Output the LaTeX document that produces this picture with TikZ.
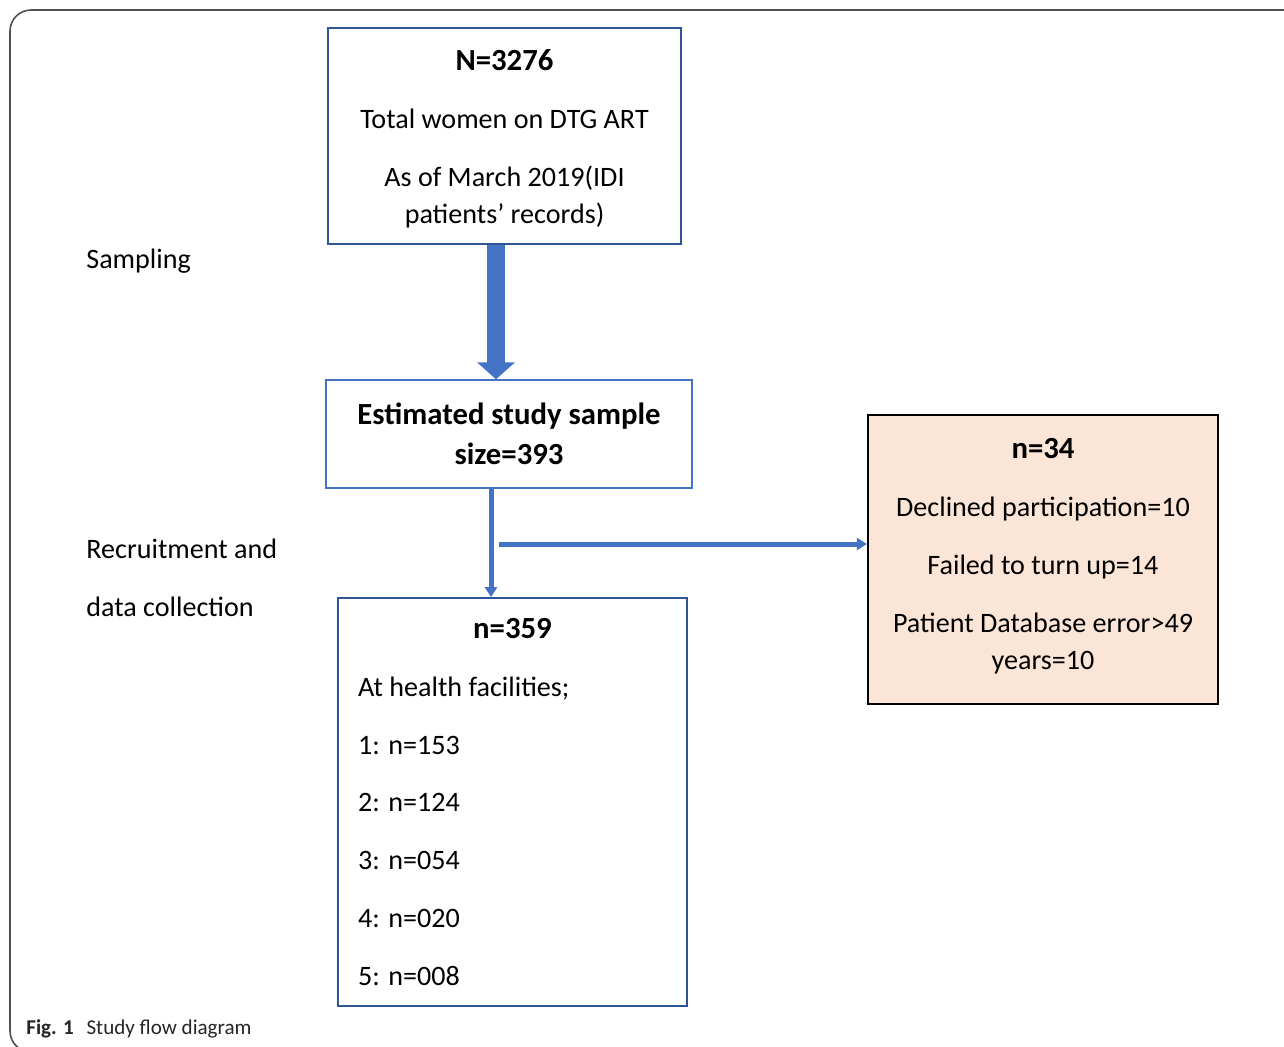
\documentclass[tikz,border=0pt]{standalone}
\usepackage{fontspec}
\setmainfont{Carlito}
\usepackage{tikz}
\usetikzlibrary{arrows.meta,positioning}

\definecolor{boxblue}{RGB}{47,85,151}
\definecolor{arrowblue}{RGB}{68,114,196}
\definecolor{peach}{RGB}{251,229,214}
\definecolor{framegray}{RGB}{80,80,80}

\newcommand{\hd}[1]{{\fontsize{17.5}{21}\selectfont\bfseries #1}}

\begin{document}
\begin{tikzpicture}[
    x=0.02cm, y=-0.02cm,
    font=\fontsize{16}{21}\selectfont,
    box/.style={draw=boxblue, line width=1.1pt, align=center, inner sep=4pt},
    ebox/.style={draw=arrowblue, line width=0.8pt, align=center, inner sep=4pt},
    xbox/.style={draw=black, line width=1.3pt, fill=peach, align=center, inner sep=4pt},
    label/.style={inner sep=0pt, anchor=west, align=left},
    bigarrow/.style={arrowblue, line width=0.36cm,
                     -{Triangle[width=0.74cm,length=0.34cm]}},
    thinarrow/.style={arrowblue, line width=0.1cm,
                      -{Triangle[width=0.24cm,length=0.2cm]}},
]
\clip (0,0) rectangle (1284,1046);
\fill[white] (0,0) rectangle (1284,1046);

%% ---- outer frame ----
\draw[framegray, line width=0.9pt, rounded corners=12pt] (10,10) rectangle (1320,1052);

%% ---- boxes ----
\node[box, minimum width=7.06cm, minimum height=4.32cm] (total) at (504.5,136)
    {\rule{0pt}{15pt}\hd{N=3276}\\[12pt]Total women on DTG ART\\[12pt]As of March 2019(IDI\\patients’ records)};
\node[ebox, minimum width=7.32cm, minimum height=2.16cm,
      font=\fontsize{17.5}{22.7}\selectfont\bfseries] (est) at (509,434)
    {Estimated study sample\\size=393};
\node[xbox, minimum width=7.0cm, minimum height=5.78cm] (excl) at (1043,559.5)
    {\hd{n=34}\\[12pt]Declined participation=10\\[12pt]Failed to turn up=14\\[12pt]Patient Database error>49\\years=10\\[-15pt]\mbox{}};
\node[box, align=flush left, text width=6.18cm, inner xsep=0.4cm,
      minimum height=8.16cm] (enrol) at (512.5,802)
    {\makebox[\linewidth]{\hd{n=359}}\\[12pt]At health facilities;\\[12pt]1: n=153\\[12pt]2: n=124\\[12pt]3: n=054\\[12pt]4: n=020\\[12pt]5: n=008};

%% ---- stage labels ----
\node[label] (samp) at (86,261) {Sampling};
\node[label] (recr) at (86,578) {Recruitment and\\[12pt]data collection};

%% ---- arrows ----
\coordinate (c1) at (496,0);
\coordinate (c2) at (491,0);
\coordinate (c3) at (499,544);
\draw[bigarrow] (total.south -| c1) -- (est.north -| c1);
\draw[thinarrow] (est.south -| c2) -- (enrol.north -| c2);
\draw[thinarrow] (c3) -- (c3 -| excl.west);

%% ---- caption ----
\node[label, font=\fontsize{12}{14}\selectfont, text=black!85] (cap) at (26,1029)
    {\textbf{Fig. 1}\hspace{0.6em}Study flow diagram};

\end{tikzpicture}
\end{document}
